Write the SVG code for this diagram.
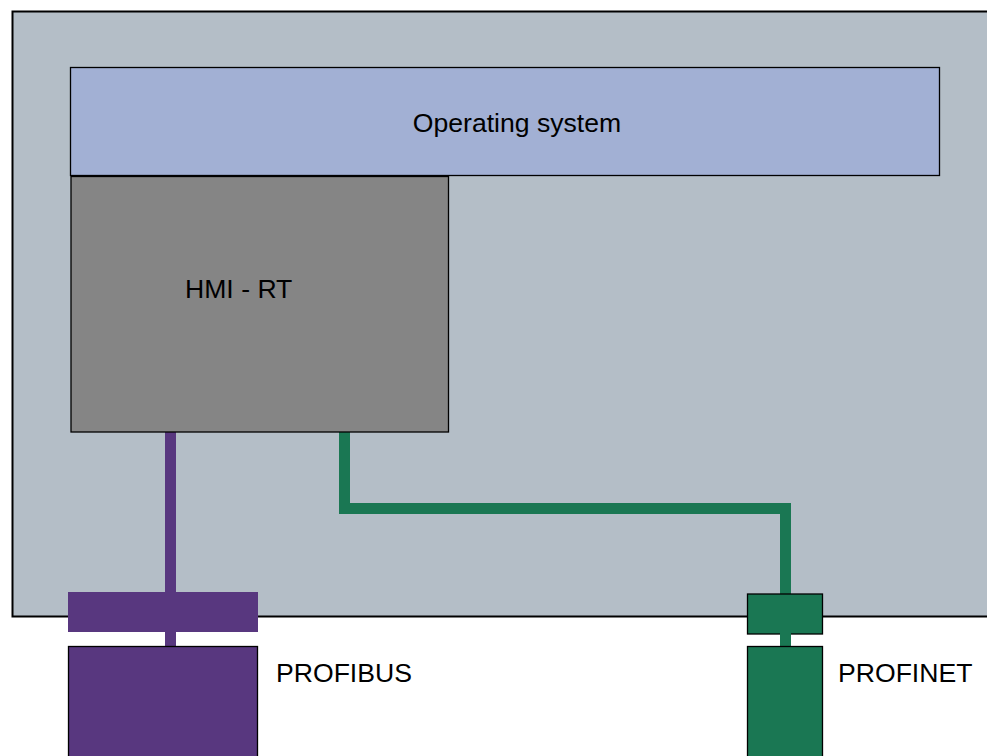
<svg xmlns="http://www.w3.org/2000/svg" width="987" height="756" viewBox="0 0 987 756">
<style>
text{font-family:"Liberation Sans",Arial,sans-serif;font-size:26.6px;fill:#000}
.bx{stroke:#000;stroke-width:1.3}
.pb{fill:#58377f}
.pn{fill:#1a7753}
</style>
<rect width="987" height="756" fill="#fff"/>
<g id="device">
<rect x="12.5" y="11.5" width="1000" height="605" fill="#b4bec7" stroke="#000" stroke-width="2"/>
</g>
<g id="connectors" fill="none" stroke-width="11">
<path d="M170.5 432 V592" stroke="#58377f"/>
<path d="M344.5 432 V508.5 H785.5 V594" stroke="#1a7753"/>
</g>
<g id="os">
<rect class="bx" x="70.5" y="67.5" width="869" height="108" fill="#a2b0d4"/>
<text x="517" y="132" text-anchor="middle">Operating system</text>
</g>
<g id="hmi">
<rect class="bx" x="71" y="176.5" width="377.5" height="255.5" fill="#858585"/>
<text x="185" y="298">HMI - RT</text>
</g>
<g id="profibus">
<rect class="pb" x="68" y="592" width="190" height="40"/>
<rect class="pb" x="165" y="631" width="11" height="16"/>
<rect class="bx pb" x="68.5" y="646.5" width="189" height="115"/>
<text x="276" y="682">PROFIBUS</text>
</g>
<g id="profinet">
<rect class="bx pn" x="747.5" y="594" width="75" height="40"/>
<rect class="pn" x="780" y="633" width="11" height="14"/>
<rect class="bx pn" x="747.5" y="646.5" width="75" height="115"/>
<text x="838" y="682">PROFINET</text>
</g>
</svg>
